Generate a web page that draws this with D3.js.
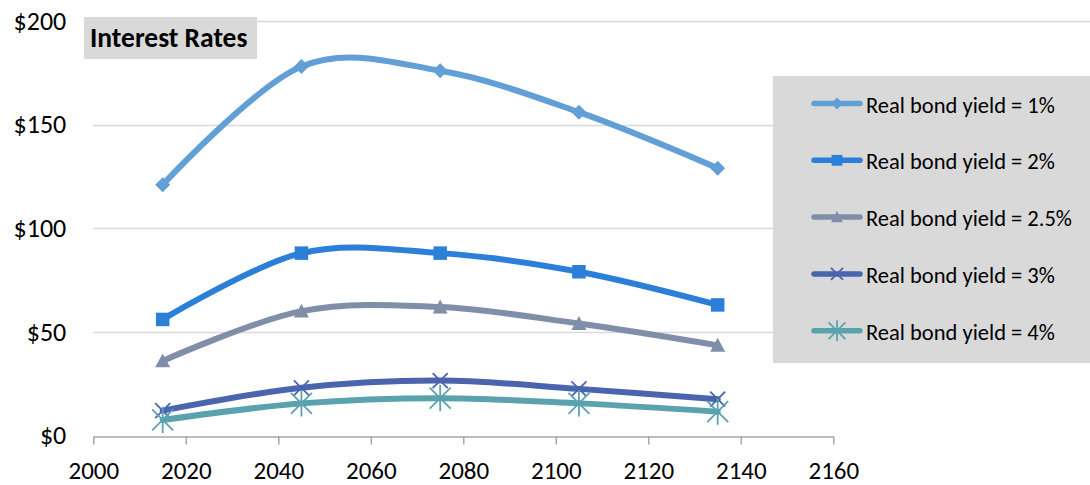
<!DOCTYPE html>
<html>
<head>
<meta charset="utf-8">
<script src="https://cdn.jsdelivr.net/npm/d3@7"></script>
<style>
  html, body { margin: 0; padding: 0; background: #fff; }
  svg { display: block; font-family: Carlito, Calibri, Lato, "Open Sans", sans-serif; }
</style>
</head>
<body>
<svg id="chart" width="1090" height="485"></svg>
<script>
// Years at which each scenario is evaluated
const years = [2015, 2045, 2075, 2105, 2135];

// Value (in dollars) for each real bond yield scenario
const yield1 = [121, 178, 176, 156, 129];
const yield2 = [56, 88, 88, 79, 63];
const yield25 = [36, 60, 62, 54, 43.5];
const yield3 = [12, 23, 26.5, 22.5, 17.5];
const yield4 = [7.5, 15.5, 18, 15.5, 11.5];

const seriesNames = [
  "Real bond yield = 1%",
  "Real bond yield = 2%",
  "Real bond yield = 2.5%",
  "Real bond yield = 3%",
  "Real bond yield = 4%"
];
const xTicks = [2000, 2020, 2040, 2060, 2080, 2100, 2120, 2140, 2160];
const yTicks = [0, 50, 100, 150, 200];
const chartTitle = "Interest Rates";

const colors = ["#629fd6", "#2b7fd8", "#7f8ea9", "#4a64ae", "#5aa3ae"];
const markers = ["diamond", "square", "triangle", "x", "star"];

const seriesValues = [yield1, yield2, yield25, yield3, yield4];
const series = seriesNames.map((name, i) => ({
  name, color: colors[i], marker: markers[i],
  points: years.map((yr, j) => ({ x: yr, y: seriesValues[i][j] }))
}));

const svg = d3.select("#chart");
const FONT = "Carlito, Calibri, Lato, sans-serif";

const x = d3.scaleLinear().domain([2000, 2160]).range([93.3, 833.3]);
const y = d3.scaleLinear().domain([0, 200]).range([435.5, 21]);

// horizontal gridlines
svg.append("g")
  .selectAll("line")
  .data(yTicks.filter(d => d > 0))
  .join("line")
  .attr("x1", x(2000)).attr("x2", 1090)
  .attr("y1", d => Math.round(y(d)) + 0.5).attr("y2", d => Math.round(y(d)) + 0.5)
  .attr("stroke", "#d9d9d9").attr("stroke-width", 1.5);

// x axis with downward ticks
const xAxis = svg.append("g")
  .attr("transform", `translate(0,${Math.round(y(0)) + 0.5})`)
  .call(d3.axisBottom(x).tickValues(xTicks).tickFormat(d3.format("d")).tickSize(8).tickSizeOuter(0).tickPadding(0));
xAxis.select(".domain").attr("stroke", "#a6a6a6").attr("stroke-width", 1.5);
xAxis.selectAll(".tick line").attr("stroke", "#a6a6a6").attr("stroke-width", 1.5);
xAxis.selectAll("text")
  .attr("dy", null).attr("y", 42.5)
  .attr("font-size", 25).attr("fill", "#000").attr("font-family", FONT);

// y axis labels only
const yAxis = svg.append("g")
  .attr("transform", `translate(${x(2000)},0)`)
  .call(d3.axisLeft(y).tickValues(yTicks).tickFormat(d => "$" + d).tickSize(0).tickPadding(27));
yAxis.select(".domain").remove();
yAxis.selectAll("text").attr("font-size", 26).attr("fill", "#000").attr("font-family", FONT);

// chart title box
const titleG = svg.append("g");
titleG.append("rect").attr("x", 84).attr("y", 17).attr("width", 173).attr("height", 42).attr("fill", "#d9d9d9");
titleG.append("text").attr("x", 90).attr("y", 47).attr("font-size", 27.5).attr("font-weight", "bold")
  .attr("font-family", FONT).attr("fill", "#000").text(chartTitle);

// marker drawing
function drawMarker(g, type, color, size) {
  const s = size;
  if (type === "diamond") {
    g.append("path").attr("d", `M0,${-s}L${s},0L0,${s}L${-s},0Z`).attr("fill", color);
  } else if (type === "square") {
    g.append("rect").attr("x", -s * 0.9).attr("y", -s * 0.9).attr("width", s * 1.8).attr("height", s * 1.8).attr("fill", color);
  } else if (type === "triangle") {
    g.append("path").attr("d", `M0,${-s}L${s},${s * 0.85}L${-s},${s * 0.85}Z`).attr("fill", color);
  } else if (type === "x") {
    g.append("path").attr("d", `M${-s},${-s}L${s},${s}M${-s},${s}L${s},${-s}`)
      .attr("stroke", color).attr("stroke-width", 1.8).attr("fill", "none");
  } else if (type === "star") {
    const r = s * 1.4;
    g.append("path").attr("d", `M${-r},${-r}L${r},${r}M${-r},${r}L${r},${-r}M0,${-r * 1.25}L0,${r * 1.25}`)
      .attr("stroke", color).attr("stroke-width", 1.8).attr("fill", "none");
  }
}

const line = d3.line()
  .x(d => x(d.x)).y(d => y(d.y))
  .curve(d3.curveCardinal.tension(0));

// series lines and markers
series.forEach(s => {
  const g = svg.append("g");
  g.append("path").datum(s.points).attr("d", line)
    .attr("fill", "none").attr("stroke", s.color).attr("stroke-width", 6)
    .attr("stroke-linecap", "round").attr("stroke-linejoin", "round");
  s.points.forEach(p => {
    const mg = g.append("g").attr("transform", `translate(${x(p.x)},${y(p.y)})`);
    drawMarker(mg, s.marker, s.color, 7.5);
  });
});

// legend
const legend = svg.append("g");
legend.append("rect").attr("x", 773).attr("y", 76).attr("width", 317).attr("height", 287).attr("fill", "#d9d9d9");
series.forEach((s, i) => {
  const cy = 103.5 + i * 56.8;
  const lg = legend.append("g");
  lg.append("line").attr("x1", 814).attr("x2", 860).attr("y1", cy).attr("y2", cy)
    .attr("stroke", s.color).attr("stroke-width", 5.5).attr("stroke-linecap", "round");
  const mg = lg.append("g").attr("transform", `translate(837,${cy})`);
  drawMarker(mg, s.marker, s.color, 6);
  lg.append("text").attr("x", 866).attr("y", cy + 9).attr("font-size", 22.5).attr("font-family", FONT)
    .attr("fill", "#000").text(s.name);
});
</script>
</body>
</html>
